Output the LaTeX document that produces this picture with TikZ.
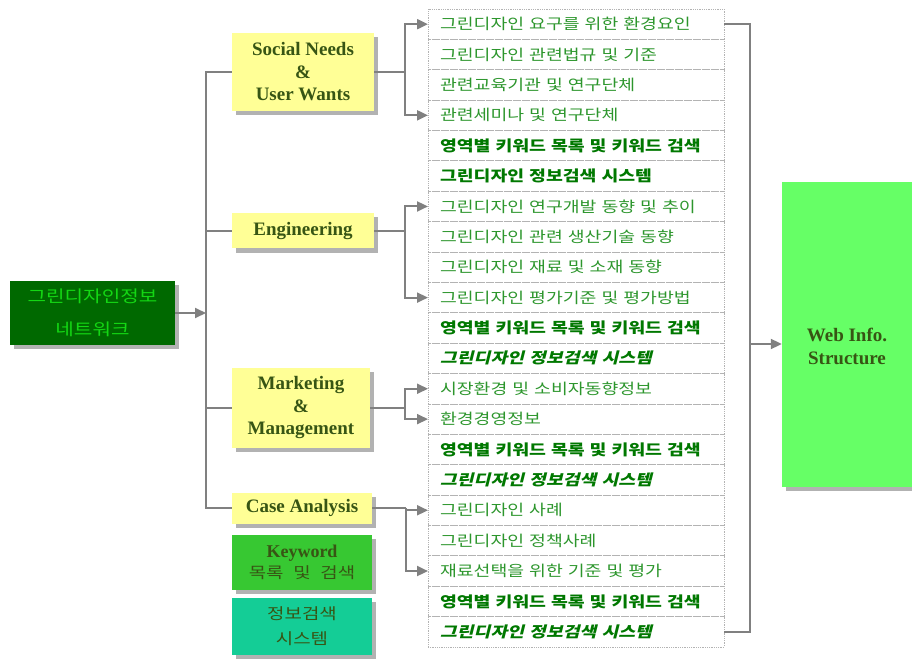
\documentclass[tikz,border=0pt]{standalone}
\usepackage{fontspec}
\setmainfont{Liberation Serif}
\newfontfamily\kr[FakeStretch=1.22,WordSpace=2.3]{Noto Sans CJK KR}
\newfontfamily\krsl[FakeStretch=1.22,WordSpace=2.3,FakeSlant=0.25]{Noto Sans CJK KR}
\usetikzlibrary{arrows.meta,positioning,shadows}
\definecolor{netgreen}{RGB}{0,105,0}
\definecolor{netlight}{RGB}{20,215,20}
\definecolor{catyellow}{RGB}{255,255,150}
\definecolor{catgreen}{RGB}{55,85,20}
\definecolor{keygreen}{RGB}{55,200,50}
\definecolor{sysgreen}{RGB}{20,205,150}
\definecolor{webgreen}{RGB}{102,255,102}
\definecolor{listgreen}{RGB}{45,150,45}
\definecolor{listbold}{RGB}{0,120,0}
\definecolor{linegray}{RGB}{128,128,128}

\begin{document}
\begin{tikzpicture}[x=1pt, y=-1pt,
  link/.style={draw=linegray, line width=2pt},
  arr/.style={link, -{Triangle[length=11pt,width=10pt]}},
  shade/.style={drop shadow={shadow xshift=4pt, shadow yshift=-4pt,
    fill=black!30, opacity=1}},
  catbox/.style={shade, fill=catyellow, text=catgreen, align=center,
    inner sep=0pt, font=\fontsize{19}{22.5}\selectfont\bfseries},
  item/.style={draw=linegray!60, densely dotted, line width=0.8pt,
    outer sep=0pt, inner xsep=12pt, inner ysep=0pt, text width=272pt,
    minimum height=30.38pt, align=left, text=listgreen,
    font=\kr\fontsize{15}{17}\selectfont},
  keyitem/.style={item, text=listbold, font=\kr\fontsize{15}{17}\selectfont\bfseries},
  sysitem/.style={item, text=listbold, font=\krsl\fontsize{15}{17}\selectfont\bfseries}]

  \useasboundingbox (0,0) rectangle (912,660);

  % === SOURCE ===
  \node[shade, fill=netgreen, text=netlight, align=center,
    minimum width=165pt, minimum height=64pt, inner sep=0pt,
    font=\kr\fontsize{16.5}{33}\selectfont] (net) at (92.5,313)
    {그린디자인정보\\네트워크};

  % === CATEGORIES ===
  \node[catbox, minimum width=142pt, minimum height=78pt] (social) at (303,72)
    {Social Needs\\\&\\User Wants};
  \node[catbox, minimum width=142pt, minimum height=35pt] (eng) at (303,231)
    {Engineering};
  \node[catbox, minimum width=138pt, minimum height=80pt] (mkt) at (301,408)
    {Marketing\\\&\\Management};
  \node[catbox, minimum width=140pt, minimum height=31pt] (case) at (302,508)
    {Case Analysis};

  % legend boxes
  \node[shade, fill=keygreen, text=catgreen, align=center, inner sep=0pt,
    minimum width=140pt, minimum height=55pt,
    font=\fontsize{18}{21}\selectfont\bfseries] (keyw) at (302,562.5)
    {Keyword\\{\kr\fontsize{15.5}{21}\selectfont\mdseries 목록 및 검색}};
  \node[shade, fill=sysgreen, text=catgreen, align=center, inner sep=0pt,
    minimum width=140pt, minimum height=57pt,
    font=\kr\fontsize{15.5}{25}\selectfont] (sysb) at (302,626.5)
    {정보검색\\시스템};

  % === ITEM LIST ===
  \node[item] (r1) at (576,24.19) {그린디자인 요구를 위한 환경요인};
  \node[item, below=0pt of r1] (r2) {그린디자인 관련법규 및 기준};
  \node[item, below=0pt of r2] (r3) {관련교육기관 및 연구단체};
  \node[item, below=0pt of r3] (r4) {관련세미나 및 연구단체};
  \node[keyitem, below=0pt of r4] (r5) {영역별 키워드 목록 및 키워드 검색};
  \node[keyitem, below=0pt of r5] (r6) {그린디자인 정보검색 시스템};
  \node[item, below=0pt of r6] (r7) {그린디자인 연구개발 동향 및 추이};
  \node[item, below=0pt of r7] (r8) {그린디자인 관련 생산기술 동향};
  \node[item, below=0pt of r8] (r9) {그린디자인 재료 및 소재 동향};
  \node[item, below=0pt of r9] (r10) {그린디자인 평가기준 및 평가방법};
  \node[keyitem, below=0pt of r10] (r11) {영역별 키워드 목록 및 키워드 검색};
  \node[sysitem, below=0pt of r11] (r12) {그린디자인 정보검색 시스템};
  \node[item, below=0pt of r12] (r13) {시장환경 및 소비자동향정보};
  \node[item, below=0pt of r13] (r14) {환경경영정보};
  \node[keyitem, below=0pt of r14] (r15) {영역별 키워드 목록 및 키워드 검색};
  \node[sysitem, below=0pt of r15] (r16) {그린디자인 정보검색 시스템};
  \node[item, below=0pt of r16] (r17) {그린디자인 사례};
  \node[item, below=0pt of r17] (r18) {그린디자인 정책사례};
  \node[item, below=0pt of r18] (r19) {재료선택을 위한 기준 및 평가};
  \node[keyitem, below=0pt of r19] (r20) {영역별 키워드 목록 및 키워드 검색};
  \node[sysitem, below=0pt of r20] (r21) {그린디자인 정보검색 시스템};

  % === TARGET ===
  \node[shade, fill=webgreen, minimum width=130pt, minimum height=305pt]
    (web) at (847,334.5) {};
  \node[text=catgreen, align=center, font=\fontsize{19}{23}\selectfont\bfseries]
    (webtxt) at ([yshift=-12pt]web.center) {Web Info.\\Structure};

  % === CONNECTORS ===
  \coordinate (hub) at (206,313);
  \draw[arr] (net.east |- hub) -- (hub);
  \draw[link] (social.west) -| (hub) |- (case.west);
  \draw[link] (hub) |- (eng.west);
  \draw[link] (hub) |- (mkt.west);

  % forks to the list
  \coordinate[right=31pt of social.east] (f1);
  \coordinate[right=31pt of eng.east] (f2);
  \coordinate[right=35pt of mkt.east] (f3);
  \coordinate[right=34pt of case.east] (f4);
  \draw[link] (social.east) -- (f1);
  \draw[arr] (f1) |- (r1.west);
  \draw[arr] (f1) |- (r4.west);
  \draw[link] (eng.east) -- (f2);
  \draw[arr] (f2) |- (r7.west);
  \draw[arr] (f2) |- (r10.west);
  \draw[link] (mkt.east) -- (f3);
  \draw[arr] (f3) |- (r13.west);
  \draw[arr] (f3) |- (r14.west);
  \draw[link] (case.east) -- (f4);
  \draw[arr] (f4) |- (r17.west);
  \draw[arr] (f4) |- (r19.west);

  % collect into web structure
  \coordinate (bus) at (750,344);
  \draw[link] (r1.east) -| (bus) |- (r21.east);
  \draw[arr] (bus) -- (bus -| web.west);

\end{tikzpicture}
\end{document}
